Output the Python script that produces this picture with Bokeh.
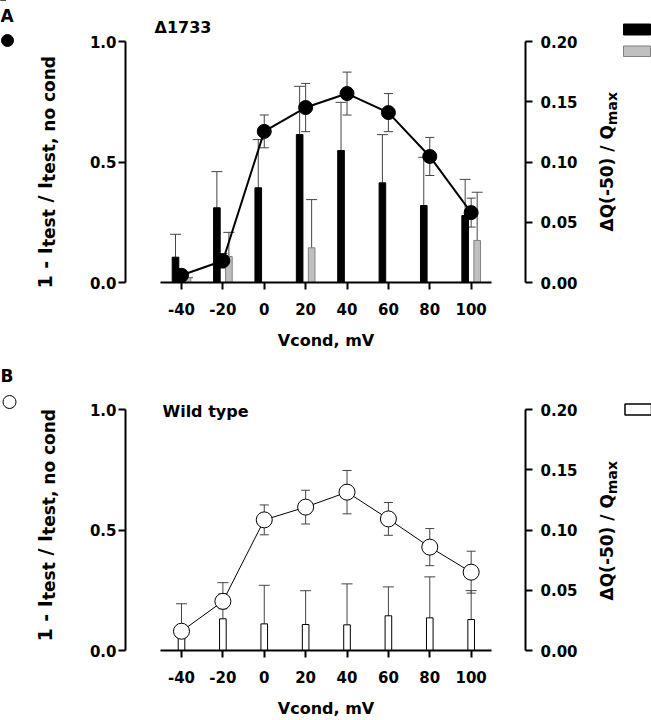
from math import pi
import numpy as np
from bokeh.plotting import figure
from bokeh.models import (ColumnDataSource, Range1d, LinearAxis, FixedTicker,
                          NumeralTickFormatter, Whisker, TeeHead, Label, BoxAnnotation)
from bokeh.transform import dodge
from bokeh.layouts import column
from bokeh.embed import file_html
from bokeh.resources import INLINE

# ---------------- data ----------------
vcond = [-40, -20, 0, 20, 40, 60, 80, 100]
left_ticks = [0.0, 0.5, 1.0]
right_ticks = [0.0, 0.05, 0.10, 0.15, 0.20]

# Panel A: delta1733
a_block = [0.03, 0.09, 0.627, 0.726, 0.784, 0.705, 0.523, 0.29]
a_block_err = [0.02, 0.03, 0.068, 0.10, 0.089, 0.079, 0.079, 0.06]
a_dq_black = [0.021, 0.062, 0.0786, 0.1228, 0.1095, 0.0827, 0.0639, 0.0556]
a_dq_black_err = [0.019, 0.030, 0.040, 0.040, 0.040, 0.040, 0.040, 0.030]
a_dq_gray = [0.004, 0.0216, np.nan, 0.0288, np.nan, np.nan, np.nan, 0.0349]
a_dq_gray_err = [0.0, 0.020, np.nan, 0.040, np.nan, np.nan, np.nan, 0.040]

# Panel B: wild type
b_block = [0.08, 0.204, 0.542, 0.595, 0.657, 0.546, 0.429, 0.325]
b_block_err = [0.028, 0.031, 0.062, 0.07, 0.09, 0.068, 0.077, 0.087]
b_dq = [0.0188, 0.0263, 0.0221, 0.0216, 0.0213, 0.0288, 0.0271, 0.0257]
b_dq_err = [0.020, 0.030, 0.032, 0.028, 0.034, 0.024, 0.034, 0.024]

FONT = "DejaVu Sans"
# DejaVu Sans Bold advance widths (em units) for label layout
ADV = {' ': 0.348, '1': 0.696, '-': 0.415, 'I': 0.372, '/': 0.365, 't': 0.478,
       'e': 0.678, 's': 0.595, ',': 0.380, 'n': 0.712, 'o': 0.687, 'c': 0.592,
       'd': 0.716, 'Q': 0.850, '(': 0.457, ')': 0.457, '5': 0.696, '0': 0.696,
       'm': 1.042, 'a': 0.675, 'x': 0.641, '\u0394': 0.774}

# ---------------- layout (pixels) ----------------
W = 651
PX_PER_MV = 2.069          # horizontal scale
PX_M40 = 181               # canvas x of -40 mV
X0 = -40 - PX_M40 / PX_PER_MV
X1 = X0 + W / PX_PER_MV
LEFT_AXIS_PX, RIGHT_AXIS_PX = 125, 525
UNIT_PX = 241              # pixels for 0 -> 1 on left axis


def px2x(px):
    return X0 + px / PX_PER_MV


def tw(s, size):
    return sum(ADV.get(ch, 0.6) for ch in s) * size


def style_axis(ax, ticks, fmt, standoff):
    ax.ticker = FixedTicker(ticks=ticks)
    ax.formatter = NumeralTickFormatter(format=fmt)
    ax.axis_line_width = 2
    ax.axis_line_color = "black"
    ax.major_tick_line_width = 2
    ax.major_tick_line_color = "black"
    ax.major_tick_out = 7
    ax.major_tick_in = 0
    ax.minor_tick_line_color = None
    ax.major_label_text_font = FONT
    ax.major_label_text_font_style = "bold"
    ax.major_label_text_font_size = "15px"
    ax.major_label_text_color = "black"
    ax.major_label_standoff = standoff


def txt(p, x, y, text, size, angle=0, align="left", baseline="alphabetic"):
    p.add_layout(Label(x=x, y=y, x_units="canvas", y_units="canvas", text=text,
                       angle=angle, text_font=FONT, text_font_style="bold",
                       text_font_size=f"{size}px", text_color="black",
                       text_align=align, text_baseline=baseline))


def vlabel(p, pieces, x_main, x_sub, y0, fmain, fsub):
    y = y0
    for text, sub, gap in pieces:
        size = fsub if sub else fmain
        y -= gap * size
        txt(p, x_sub if sub else x_main, y, text, size, angle=pi / 2)
        y -= tw(text, size)


def box(p, l, r, t, b, fill, line, radius=0, lw=1):
    p.add_layout(BoxAnnotation(left=l, right=r, top=t, bottom=b,
                               left_units="canvas", right_units="canvas",
                               top_units="canvas", bottom_units="canvas",
                               fill_color=fill, fill_alpha=1, line_color=line,
                               line_alpha=1, line_width=lw, border_radius=radius,
                               level="overlay"))


def make_panel(height, zero_px, block, block_err, bars, filled):
    y_lo = (zero_px - height) / UNIT_PX
    y_hi = zero_px / UNIT_PX
    p = figure(width=W, height=height, output_backend="svg", toolbar_location=None,
               x_range=Range1d(X0, X1), y_range=Range1d(y_lo, y_hi),
               x_axis_location=None, y_axis_location=None,
               min_border_left=0, min_border_right=0,
               min_border_top=0, min_border_bottom=0)
    p.extra_y_ranges = {"dq": Range1d(y_lo * 0.2, y_hi * 0.2)}
    p.outline_line_color = None
    p.grid.visible = False
    p.background_fill_color = "white"

    xax = LinearAxis(fixed_location=0)
    style_axis(xax, vcond, "0", 13)
    xax.bounds = (-50, 110)
    xax.axis_label = "Vcond, mV"
    xax.axis_label_text_font = FONT
    xax.axis_label_text_font_style = "bold"
    xax.axis_label_text_font_size = "16px"
    xax.axis_label_text_color = "black"
    xax.axis_label_standoff = 13
    p.add_layout(xax, "below")

    lax = LinearAxis(fixed_location=px2x(LEFT_AXIS_PX))
    style_axis(lax, left_ticks, "0.0", 2)
    lax.bounds = (0, 1)
    p.add_layout(lax, "left")

    rax = LinearAxis(y_range_name="dq", fixed_location=px2x(RIGHT_AXIS_PX))
    style_axis(rax, right_ticks, "0.00", 8)
    rax.bounds = (0, 0.2)
    p.add_layout(rax, "right")

    # bars (right axis)
    for vals, errs, off, fill, line in bars:
        src = ColumnDataSource(dict(x=vcond, top=vals, up=list(np.add(vals, errs))))
        xs = dodge("x", off, range=p.x_range)
        p.add_layout(Whisker(base=xs, lower="top", upper="up", source=src,
                             y_range_name="dq", line_color="#444444", line_width=1,
                             upper_head=TeeHead(size=11, line_color="#444444", line_width=1),
                             lower_head=None, level="underlay"))
        p.vbar(x=xs, top="top", bottom=0, width=3.2, source=src, y_range_name="dq",
               fill_color=fill, line_color=line, line_width=1)

    # block curve (left axis)
    csrc = ColumnDataSource(dict(x=vcond, y=block,
                                 lo=list(np.subtract(block, block_err)),
                                 hi=list(np.add(block, block_err))))
    p.add_layout(Whisker(base="x", lower="lo", upper="hi", source=csrc,
                         line_color="#444444", line_width=1,
                         upper_head=TeeHead(size=9, line_color="#444444", line_width=1),
                         lower_head=TeeHead(size=9, line_color="#444444", line_width=1),
                         level="underlay"))
    if filled:
        p.line("x", "y", source=csrc, line_color="black", line_width=2)
        p.scatter("x", "y", source=csrc, size=14, fill_color="black", line_color="black")
    else:
        p.line("x", "y", source=csrc, line_color="black", line_width=1)
        p.scatter("x", "y", source=csrc, size=16, fill_color="white", line_color="black",
                  line_width=1)
    return p


left_pieces = [("1 - I", False, 0), ("test", True, 0), ("/ I", False, 0.348),
               ("test, no cond", True, 0)]
right_pieces = [("\u0394Q(-50) / Q", False, 0), ("max", True, 0)]

# ---------------- Panel A ----------------
pA = make_panel(350, 282, a_block, a_block_err,
                [(a_dq_black, a_dq_black_err, -2.9, "black", "black"),
                 (a_dq_gray, a_dq_gray_err, 2.9, "#bfbfbf", "#808080")], True)
txt(pA, 0, 15, "A", 17)
box(pA, 1, 13, 34, 46, "black", "black", radius=6)
txt(pA, 154, 27, "\u03941733", 16)
vlabel(pA, left_pieces, 44, 48, 288, 19, 17)
vlabel(pA, right_pieces, 606, 611, 231, 17, 14)
box(pA, 623, 650, 23.5, 34.5, "black", "black")
box(pA, 623, 650, 45.5, 56, "#c0c0c0", "#808080")

# ---------------- Panel B ----------------
pB = make_panel(370, 300, b_block, b_block_err,
                [(b_dq, b_dq_err, 0, "white", "black")], False)
txt(pB, 0, 25, "B", 17)
box(pB, 2.5, 15.5, 45, 58, "white", "black", radius=7)
txt(pB, 162, 60.5, "Wild type", 16)
vlabel(pB, left_pieces, 44, 48, 291, 19, 17)
vlabel(pB, right_pieces, 606, 611, 250, 17, 14)
box(pB, 624.5, 651, 53.5, 64.5, "white", "black", lw=1.5)

layout = column(pA, pB)
open("out.html", "w").write(file_html(layout, INLINE))
